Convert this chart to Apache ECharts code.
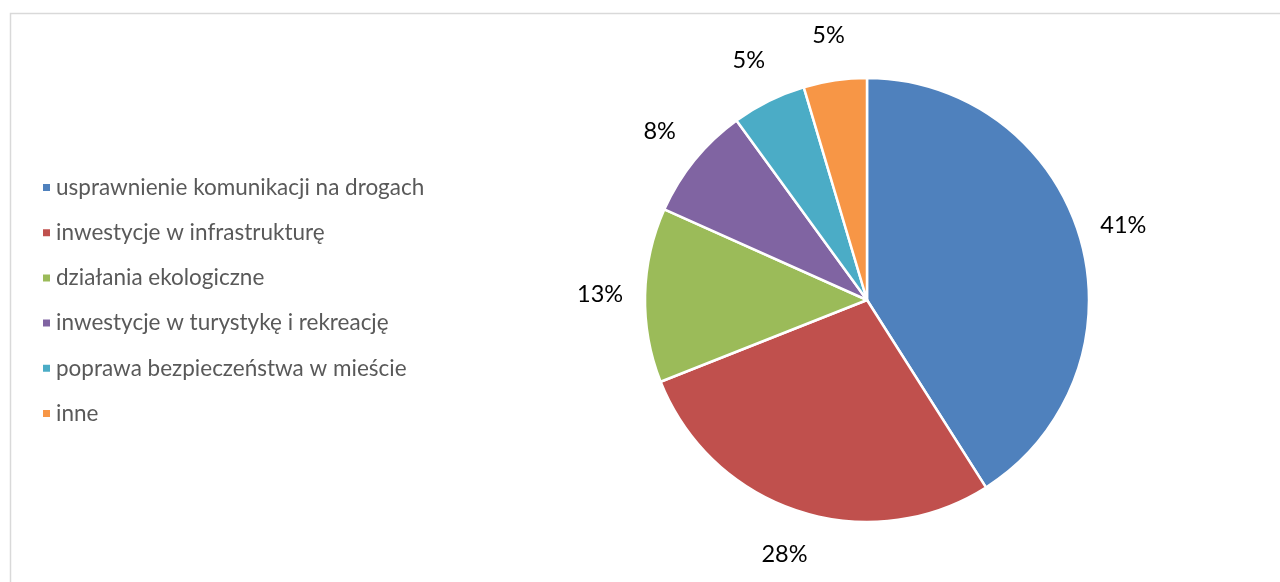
<!DOCTYPE html>
<html><head><meta charset="utf-8">
<script src="https://cdn.jsdelivr.net/npm/echarts@6/dist/echarts.min.js"></script>
<style>html,body{margin:0;padding:0;background:#fff}#c{width:1280px;height:582px}</style>
</head><body><div id="c"></div>
<script>
const categories = ['usprawnienie komunikacji na drogach','inwestycje w infrastrukturę','działania ekologiczne','inwestycje w turystykę i rekreację','poprawa bezpieczeństwa w mieście','inne'];
const values = [41, 28, 12.7, 8.3, 5.4, 4.6];
const colors = ['#4F81BD','#C0504D','#9BBB59','#8064A2','#4BACC6','#F79646'];
const total = values.reduce((a,b)=>a+b,0);
const data = categories.map((n,i)=>({name:n, value:values[i], itemStyle:{color:colors[i]}}));
const chart = echarts.init(document.getElementById('c'));
chart.setOption({
  animation:false,
  graphic:[{type:'rect', left:8, top:11, shape:{width:1400, height:700}, style:{fill:null, stroke:'#d9d9d9', lineWidth:1.5}, silent:true}],
  legend:{orient:'vertical', left:36, top:171, itemGap:22.2, itemWidth:9, itemHeight:9, icon:'rect',
    textStyle:{color:'#595959', fontFamily:'Lato', fontSize:22.5}, data:categories},
  series:[
    {type:'pie', center:[867,300], radius:[0,222], startAngle:90, clockwise:true,
     itemStyle:{borderColor:'#fff', borderWidth:2.5}, label:{show:false}, labelLine:{show:false}, data:data},
    {type:'pie', center:[867,300], radius:[222,306], startAngle:90, clockwise:true, silent:true,
     itemStyle:{color:'rgba(0,0,0,0)'},
     label:{show:true, position:'inside', color:'#000', fontFamily:'Lato', fontSize:23.5,
       formatter:p=>Math.round(p.value/total*100)+'%'},
     labelLine:{show:false},
     data:categories.map((n,i)=>({name:n+' ', value:values[i]}))}
  ]
});
</script></body></html>
